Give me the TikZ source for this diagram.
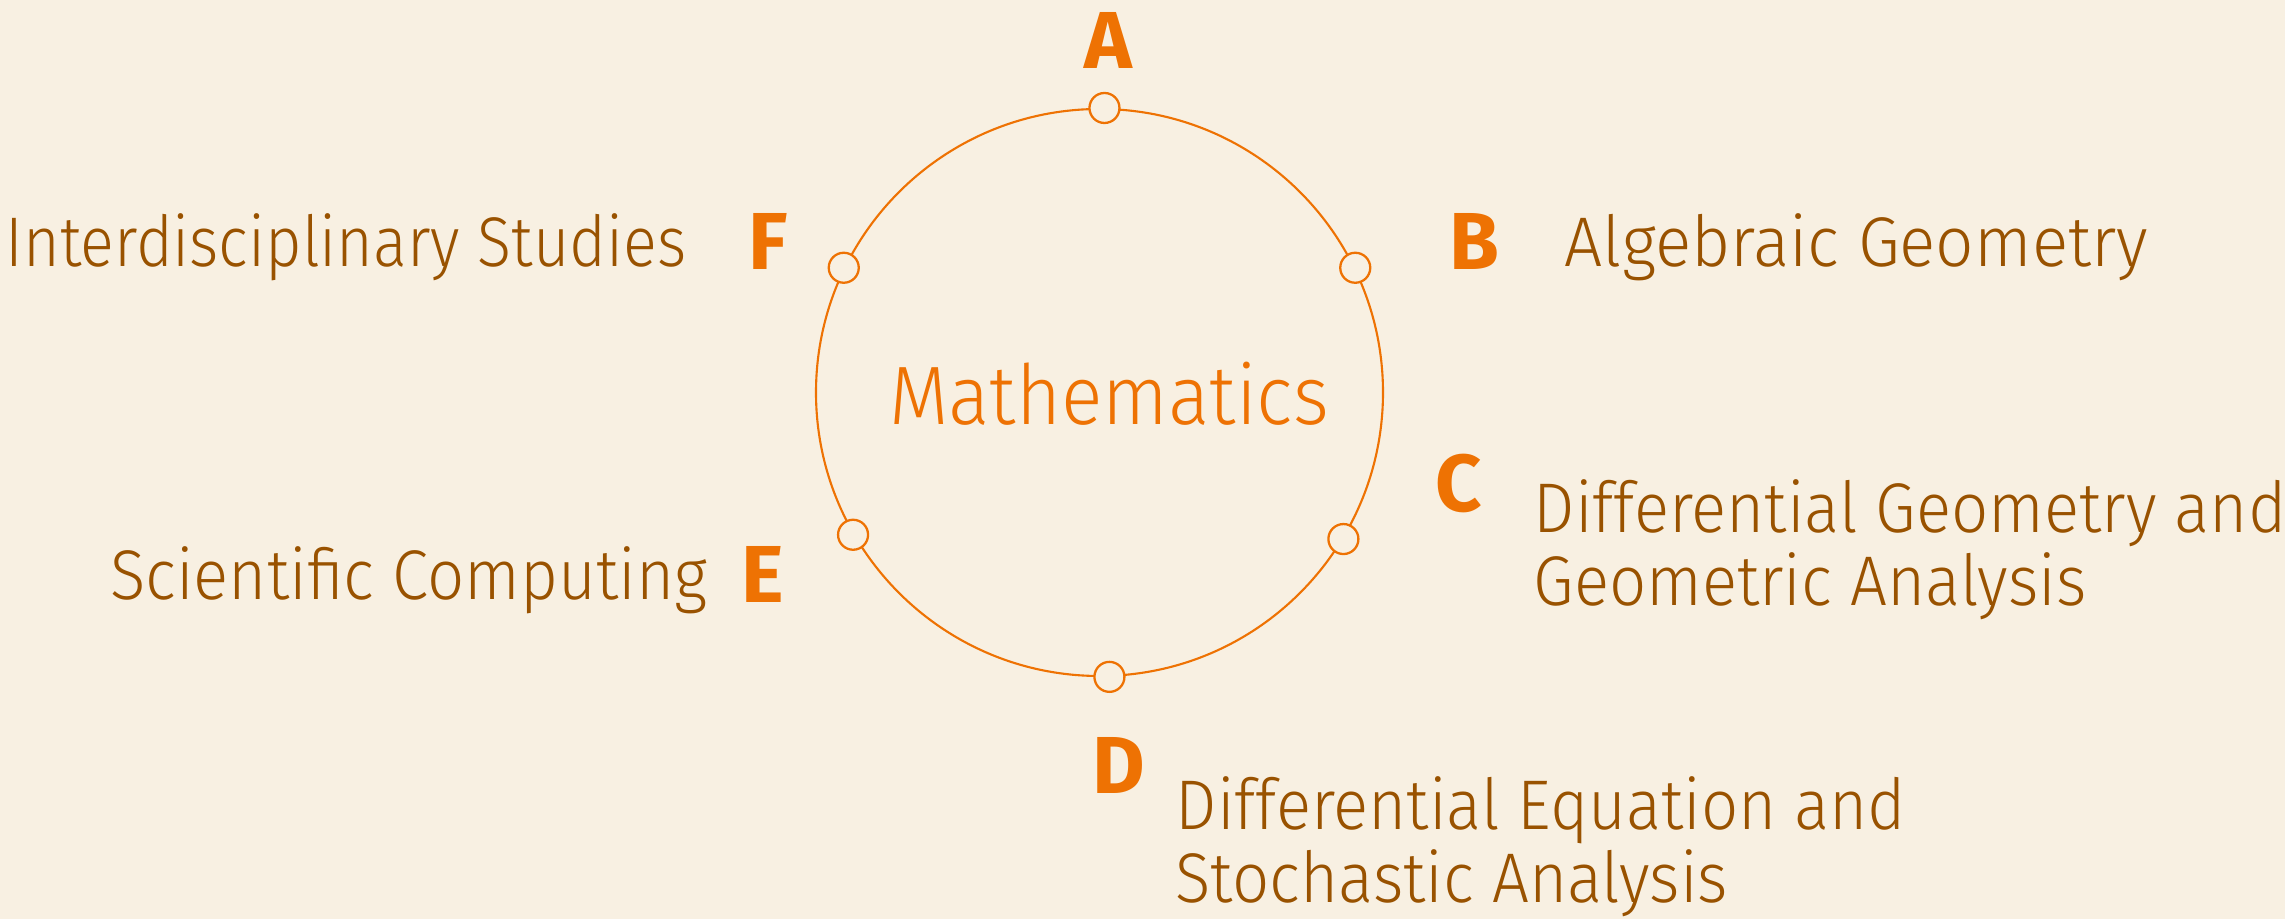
\documentclass[tikz,border=0pt]{standalone}
\usepackage{fontspec}
\usepackage{xcolor}
\usepackage{tikz}
\newfontfamily\lightfont{Fira Sans Light}[FakeStretch=0.93]
\newfontfamily\lightnarrow{Fira Sans Light}[FakeStretch=0.895]
\newfontfamily\lightwide{Fira Sans Light}[FakeStretch=0.96]
\newfontfamily\heavyfont{Fira Sans Bold}
\definecolor{bg}{RGB}{248, 240, 226}
\definecolor{accent}{RGB}{238, 114, 3}
\definecolor{txtbrown}{RGB}{153, 82, 0}

\begin{document}
\begin{tikzpicture}[every node/.style={inner sep=0pt},
  topic/.style={font=\fontsize{20}{21}\selectfont\lightfont, text=txtbrown, align=left},
  tag/.style={font=\fontsize{23}{23}\selectfont\heavyfont, text=accent},
  dot/.style={circle, draw=accent, fill=bg, line width=0.65pt, minimum size=0.3cm}]
% Background
\useasboundingbox (0,0) rectangle (22.85,-9.19);
\fill[bg] (0,0) rectangle (22.85,-9.19);

% Circle and title
\node[circle, draw=accent, line width=0.6pt, minimum size=5.67cm] (ring) at (10.995,-3.925) {};
\node[font=\fontsize{23.6}{24}\selectfont\lightfont, text=accent] (math) at (11.09,-3.94) {Mathematics};

% Markers
\node[dot] (mA) at (ring.89.5) {};
\node[dot] (mB) at (ring.26.9) {};
\node[dot] (mC) at (ring.-31.7) {};
\node[dot] (mD) at (ring.-88.5) {};
\node[dot] (mE) at (ring.210.7) {};
\node[dot] (mF) at (ring.154.8) {};

% Letters
\node[tag] (A) at (11.08,-0.41) {A};
\node[tag] (B) at (14.74,-2.42) {B};
\node[tag] (C) at (14.59,-4.84) {C};
\node[tag] (D) at (11.19,-7.66) {D};
\node[tag] (E) at (7.63,-5.75) {E};
\node[tag] (F) at (7.68,-2.42) {F};

% Topics
\node[topic, font=\fontsize{20}{21}\selectfont\lightwide, anchor=base west] (tB) at (15.64,-2.67) {Algebraic Geometry};
\node[topic, anchor=base west] (tC) at (15.33,-6.06) {Differential Geometry and\\Geometric Analysis};
\node[topic, anchor=base west] (tD) at (11.75,-9.03) {Differential Equation and\\Stochastic Analysis};
\node[topic, anchor=base east] (tE) at (7.08,-6.00) {Scientific Computing};
\node[topic, font=\fontsize{20}{21}\selectfont\lightnarrow, anchor=base east] (tF) at (6.87,-2.67) {Interdisciplinary Studies};
\end{tikzpicture}
\end{document}
